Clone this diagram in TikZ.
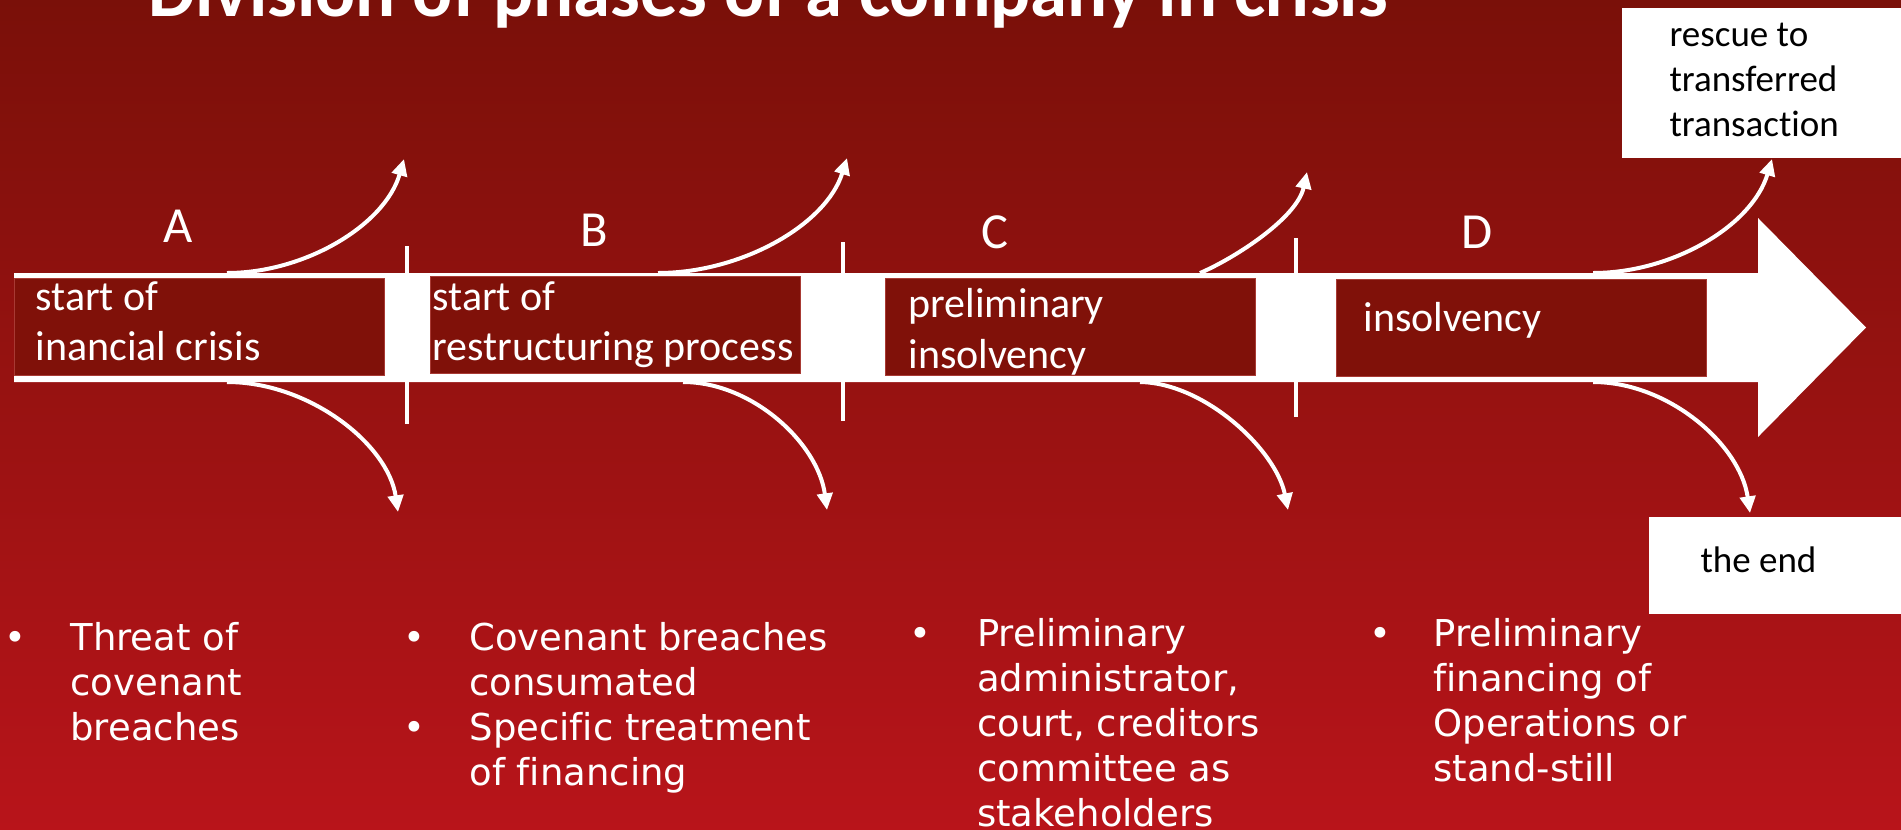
\documentclass[tikz,border=0pt]{standalone}
\usepackage{fontspec}
\setmainfont{Carlito}[Ligatures=NoCommon]
\newfontfamily\listfont{DejaVu Sans}[Ligatures=NoCommon]
\usetikzlibrary{arrows.meta}

\definecolor{bgtop}{RGB}{122,16,9}
\definecolor{bgbottom}{RGB}{184,20,26}
\definecolor{phasefill}{RGB}{128,17,9}
\definecolor{phaseline}{RGB}{168,58,52}

\tikzset{every picture/.style={line width=0.75pt}}
\tikzset{
  phasebox/.style={draw=phaseline, fill=phasefill, line width=0.75pt, inner sep=0pt, anchor=north west, minimum width=277.5pt, minimum height=72.75pt},
  phasetext/.style={text=white, font=\fontsize{31.5}{38}\selectfont, align=left, inner sep=0pt, anchor=base west},
  phaseletter/.style={text=white, font=\fontsize{37.9}{45}\selectfont, inner sep=0pt, anchor=base},
  outcomebox/.style={fill=white, inner sep=0pt, anchor=north west},
  outcometext/.style={text=black, font=\fontsize{27.75}{33.75}\selectfont, align=left, inner sep=0pt, anchor=base west},
  listdot/.style={text=white, font=\listfont\fontsize{27.75}{33.75}\selectfont, inner sep=0pt, anchor=base},
  listtext/.style={text=white, font=\listfont\fontsize{27.75}{33.75}\selectfont, align=left, inner sep=0pt, anchor=base west},
  divider/.style={draw=white, line width=3pt},
  branch/.style={draw=white, line width=3pt, -{Triangle[length=12.5pt,width=11.5pt]}}
}

\begin{document}
\begin{tikzpicture}[x=0.75pt,y=0.75pt,yscale=-1,xscale=1]
\useasboundingbox (0,0) rectangle (1901,829);

%Background
\fill[top color=bgtop, bottom color=bgbottom] (0,0) rectangle (1901,829);

% Title
\node[text=white, font=\fontsize{56}{66}\selectfont\bfseries, inner sep=0pt, anchor=base west] (title) at (148,16) {Division of phases of a company in crisis};

%Straight Lines (phase borders)
\draw[divider] (407,246) -- (407,424);
\draw[divider] (843,242) -- (843,421);
\draw[divider] (1296,238) -- (1296,417);

%Shapes (time arrow)
\fill[white] (14,273) -- (1758,273) -- (1758,218) -- (1866,327.5) -- (1758,437) -- (1758,382) -- (14,382) -- cycle;

%Shapes (phases)
\node[phasebox] (boxA) at (14,278) {};
\node[phasebox] (boxB) at (430,276) {};
\node[phasebox] (boxC) at (885,278) {};
\node[phasebox] (boxD) at (1336,279) {};

%Shapes (outcomes)
\node[outcomebox, minimum width=218pt, minimum height=112.5pt] (rescue) at (1621.7,7.3) {};
\node[outcomebox, minimum width=198pt, minimum height=72.5pt] (theend) at (1648,516.7) {};

% Branch points
\coordinate (aUp) at (227,273);   \coordinate (aUpTip) at (404,159);
\coordinate (aDown) at (227,382); \coordinate (aDownTip) at (398,512);
\coordinate (bUp) at (658,273);   \coordinate (bUpTip) at (847,158);
\coordinate (bDown) at (683,382); \coordinate (bDownTip) at (827,510);
\coordinate (cUp) at (1200,273);  \coordinate (cUpTip) at (1307,172);
\coordinate (cDown) at (1140,382);\coordinate (cDownTip) at (1288,510);
\coordinate (dUp) at (1593,273);  \coordinate (dUpTip) at (1772,159);
\coordinate (dDown) at (1593,382);\coordinate (dDownTip) at (1750,513);

%Curve Lines
\draw[branch] (aUp) .. controls (305,273) and (385,225) .. (aUpTip);
\draw[branch] (aDown) .. controls (309,382) and (388,444) .. (aDownTip);
\draw[branch] (bUp) .. controls (741,273) and (826,225) .. (bUpTip);
\draw[branch] (bDown) .. controls (752,382) and (818,443) .. (bDownTip);
\draw[branch] (cUp) .. controls (1235,258) and (1297,218) .. (cUpTip);
\draw[branch] (cDown) .. controls (1205,383) and (1276,450) .. (cDownTip);
\draw[branch] (dUp) .. controls (1672,273) and (1752,226) .. (dUpTip);
\draw[branch] (dDown) .. controls (1668,382) and (1740,444) .. (dDownTip);

% Text Node
\node[phaseletter] (letterA) at (178,242) {A};
\node[phaseletter] (letterB) at (594,246.7) {B};
\node[phaseletter] (letterC) at (995,248) {C};
\node[phaseletter] (letterD) at (1477,248) {D};
% Text Node (anchored at the last line)
\node[phasetext] (textA) at (35,360.7) {start of\\inancial crisis};
\node[phasetext] (textB) at (432,360.7) {start of\\restructuring process};
\node[phasetext] (textC) at (908,368) {preliminary\\insolvency};
\node[phasetext] (textD) at (1363,331.7) {insolvency};
% Text Node
\node[outcometext] (rescuetext) at (1669,136.7) {rescue to\\transferred\\transaction};
\node[outcometext] (theendtext) at (1700,572.7) {the end};

% Text Node (lists)
\node[listdot] (dotA) at (15,650.7) {\textbullet};
\node[listtext] (listA) at (70,740.7) {Threat of\\covenant\\breaches};
\node[listdot] (dotB1) at (414,650.7) {\textbullet};
\node[listtext] (listB1) at (469,695.7) {Covenant breaches\\consumated};
\node[listdot] (dotB2) at (414,740) {\textbullet};
\node[listtext] (listB2) at (469,785) {Specific treatment\\of financing};
\node[listdot] (dotC) at (920.7,646.7) {\textbullet};
\node[listtext] (listC) at (976.7,826.7) {Preliminary\\administrator,\\court, creditors\\committee as\\stakeholders};
\node[listdot] (dotD) at (1380,646.7) {\textbullet};
\node[listtext] (listD) at (1433,781.7) {Preliminary\\financing of\\Operations or\\stand-still};

\end{tikzpicture}
\end{document}
